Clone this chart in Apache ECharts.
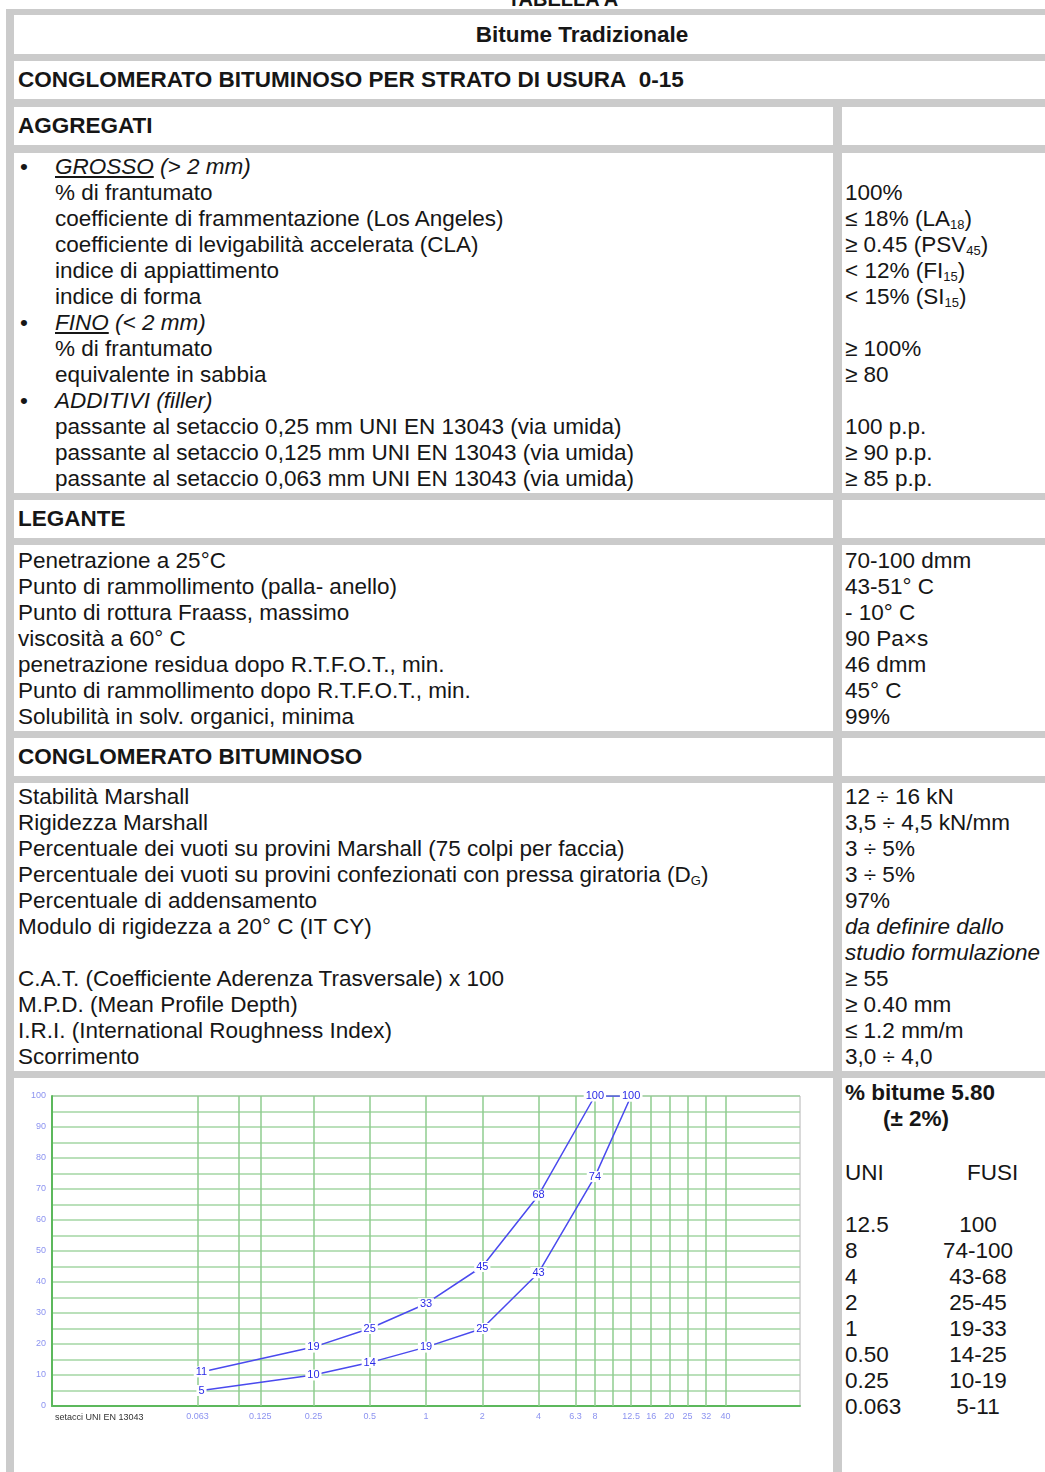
<!DOCTYPE html>
<html>
<head>
<meta charset="utf-8">
<script src="https://cdn.jsdelivr.net/npm/echarts@6/dist/echarts.min.js"></script>
<style>
  html, body { margin: 0; padding: 0; background: #fff; }
  #page { position: relative; width: 1045px; height: 1472px; overflow: hidden;
          font-family: 'Liberation Sans', Arial, sans-serif; color: #161616; }
  .title { position: absolute; left: 0; width: 1126px; top: -11px; text-align: center;
           font-weight: bold; font-size: 20px; line-height: 20px; }
  .frame { position: absolute; left: 6px; top: 9px; width: 1300px; height: 1600px; background: #cbcbcb; }
  .cell { position: absolute; background: #fff; box-sizing: border-box; }
  .head { display: flex; align-items: center; font-weight: bold; font-size: 22.5px; padding-left: 4px; white-space: nowrap; }
  .lines { font-size: 22.5px; line-height: 26px; }
  .ln { height: 26px; white-space: nowrap; position: relative; }
  .l .ln { padding-left: 4px; }
  .l .ln.ind { padding-left: 41px; }
  .r .ln { padding-left: 3px; }
  .bul { position: absolute; left: 6px; }
  sub { font-size: 13px; vertical-align: -3px; line-height: 0; }
  #chart { position: absolute; left: 0; top: 0; width: 819px; height: 394px; }
</style>
</head>
<body>
<div id="page"></div>
<script>
// curve data (sieve size mm -> % passing)
const sieveSizes = [0.063, 0.25, 0.5, 1, 2, 4, 8, 12.5];
const uniLabels = ['0.063', '0.25', '0.50', '1', '2', '4', '8', '12.5'];
const upperPassing = [11, 19, 25, 33, 45, 68, 100, 100];
const lowerPassing = [5, 10, 14, 19, 25, 43, 74, 100];

// vertical grid lines of the sieve chart
const gridSieves = [0.063, 0.1, 0.125, 0.25, 0.5, 1, 2, 4, 6.3, 8, 10, 12.5, 16, 20, 25, 31.5, 40];
const gridSieveLabels = ['0.063', '', '0.125', '0.25', '0.5', '1', '2', '4', '6.3', '8', '', '12.5', '16', '20', '25', '32', '40'];

// table rows: [kind, left text, right text]  kind: b = bullet, i = indented, n = normal
const aggregatiRows = [
  ['b', '<i><u>GROSSO</u> (&gt; 2 mm)</i>', ''],
  ['i', '% di frantumato', '100%'],
  ['i', 'coefficiente di frammentazione (Los Angeles)', '≤ 18% (LA<sub>18</sub>)'],
  ['i', 'coefficiente di levigabilità accelerata (CLA)', '≥ 0.45 (PSV<sub>45</sub>)'],
  ['i', 'indice di appiattimento', '&lt; 12% (FI<sub>15</sub>)'],
  ['i', 'indice di forma', '&lt; 15% (SI<sub>15</sub>)'],
  ['b', '<i><u>FINO</u> (&lt; 2 mm)</i>', ''],
  ['i', '% di frantumato', '≥ 100%'],
  ['i', 'equivalente in sabbia', '≥ 80'],
  ['b', '<i>ADDITIVI (filler)</i>', ''],
  ['i', 'passante al setaccio 0,25 mm UNI EN 13043 (via umida)', '100 p.p.'],
  ['i', 'passante al setaccio 0,125 mm UNI EN 13043 (via umida)', '≥ 90 p.p.'],
  ['i', 'passante al setaccio 0,063 mm UNI EN 13043 (via umida)', '≥ 85 p.p.']
];
const leganteRows = [
  ['n', 'Penetrazione a 25°C', '70-100 dmm'],
  ['n', 'Punto di rammollimento (palla- anello)', '43-51° C'],
  ['n', 'Punto di rottura Fraass, massimo', '- 10° C'],
  ['n', 'viscosità a 60° C', '90 Pa×s'],
  ['n', 'penetrazione residua dopo R.T.F.O.T., min.', '46 dmm'],
  ['n', 'Punto di rammollimento dopo R.T.F.O.T., min.', '45° C'],
  ['n', 'Solubilità in solv. organici, minima', '99%']
];
const conglomeratoRows = [
  ['n', 'Stabilità Marshall', '12 ÷ 16 kN'],
  ['n', 'Rigidezza Marshall', '3,5 ÷ 4,5 kN/mm'],
  ['n', 'Percentuale dei vuoti su provini Marshall (75 colpi per faccia)', '3 ÷ 5%'],
  ['n', 'Percentuale dei vuoti su provini confezionati con pressa giratoria (D<sub>G</sub>)', '3 ÷ 5%'],
  ['n', 'Percentuale di addensamento', '97%'],
  ['n', 'Modulo di rigidezza a 20° C (IT CY)', '<i>da definire dallo</i>'],
  ['n', '', '<i>studio formulazione</i>'],
  ['n', 'C.A.T. (Coefficiente Aderenza Trasversale) x 100', '≥ 55'],
  ['n', 'M.P.D. (Mean Profile Depth)', '≥ 0.40 mm'],
  ['n', 'I.R.I. (International Roughness Index)', '≤ 1.2 mm/m'],
  ['n', 'Scorrimento', '3,0 ÷ 4,0']
];

const page = document.getElementById('page');
page.innerHTML = '<div class="title">TABELLA A</div><div class="frame"></div>';

function cell(x, y, w, h, cls, html) {
  const d = document.createElement('div');
  d.className = 'cell ' + (cls || '');
  d.style.left = x + 'px'; d.style.top = y + 'px';
  d.style.width = w + 'px'; d.style.height = h + 'px';
  d.innerHTML = html || '';
  page.appendChild(d);
  return d;
}

function rowsCells(rows, top, h, padTop) {
  const left = rows.map(r => {
    const cls = r[0] === 'n' ? '' : ' ind';
    const bul = r[0] === 'b' ? '<span class="bul">•</span>' : '';
    return `<div class="ln${cls}">${bul}${r[1]}</div>`;
  }).join('');
  const right = rows.map(r => `<div class="ln">${r[2]}</div>`).join('');
  cell(14, top, 819, h, 'lines l', left).style.paddingTop = padTop + 'px';
  cell(842, top, 400, h, 'lines r', right).style.paddingTop = padTop + 'px';
}

const L = 14, W = 1136;
cell(L, 15, W, 39, 'head', '<div style="width:100%;text-align:center;padding-right:4px">Bitume Tradizionale</div>');
cell(L, 61, W, 38, 'head', 'CONGLOMERATO BITUMINOSO PER STRATO DI USURA&nbsp; 0-15');
cell(L, 107, 819, 38, 'head', 'AGGREGATI');
cell(842, 107, 400, 38, 'head', '');
rowsCells(aggregatiRows, 153, 340, 1);
cell(L, 500, 819, 38, 'head', 'LEGANTE');
cell(842, 500, 400, 38, 'head', '');
rowsCells(leganteRows, 545, 186, 3);
cell(L, 738, 819, 38, 'head', 'CONGLOMERATO BITUMINOSO');
cell(842, 738, 400, 38, 'head', '');
rowsCells(conglomeratoRows, 783, 288, 1);

// chart row
const chartCell = cell(L, 1078, 819, 420, '', '<div id="chart"></div>');
let fusiHtml = '<div class="ln"><b>% bitume 5.80</b></div>' +
  '<div class="ln" style="height:28px"><b style="padding-left:38px">(± 2%)</b></div>' +
  '<div class="ln"></div>' +
  '<div class="ln">UNI<span style="position:absolute;left:125px">FUSI</span></div>' +
  '<div class="ln"></div>';
for (let i = sieveSizes.length - 1; i >= 0; i--) {
  const f = lowerPassing[i] === upperPassing[i] ? String(upperPassing[i]) : lowerPassing[i] + '-' + upperPassing[i];
  fusiHtml += `<div class="ln">${uniLabels[i]}<span style="position:absolute;left:136px;transform:translateX(-50%)">${f}</span></div>`;
}
const fusiCell = cell(842, 1078, 400, 420, 'lines r', fusiHtml);
fusiCell.style.paddingTop = '2px';
fusiCell.style.lineHeight = '26.3px';

const chart = echarts.init(document.getElementById('chart'), null, { renderer: 'canvas' });
const curveColor = '#4a4aee';
const labelStyle = {
  show: true, position: 'inside', color: '#2a2ae6', fontSize: 11,
  fontFamily: 'Liberation Sans, Arial, sans-serif',
  backgroundColor: '#fff', padding: [0, 2]
};
chart.setOption({
  animation: false,
  grid: { left: 38, right: 33, top: 18, bottom: 66, show: true, borderColor: '#b4b4b4', borderWidth: 1 },
  xAxis: {
    type: 'log', logBase: 10, min: 0.01, max: 100,
    axisLine: { show: true, lineStyle: { color: '#5cb85c', width: 2 } },
    axisTick: { show: false },
    axisLabel: { show: false },
    splitLine: { show: false }
  },
  yAxis: {
    type: 'value', min: 0, max: 100, interval: 5,
    axisLine: { show: true, lineStyle: { color: '#5cb85c', width: 2 } },
    axisTick: { show: false },
    axisLabel: {
      color: '#8c93f0', fontSize: 9, margin: 6,
      formatter: v => (v % 10 === 0 ? String(v) : '')
    },
    splitLine: { lineStyle: { color: '#a3d6a3', width: 1.5 } }
  },
  graphic: [{
    type: 'text', left: 41, top: 335,
    style: { text: 'setacci UNI EN 13043', fill: '#333', font: '9px Liberation Sans, Arial, sans-serif' }
  }],
  series: [
    {
      type: 'line', data: [], z: 1, silent: true,
      markLine: {
        silent: true, symbol: ['none', 'none'],
        lineStyle: { color: '#8fcc8f', type: 'solid', width: 1.5 },
        label: { position: 'start', distance: 6, color: '#8c93f0', fontSize: 9 },
        data: gridSieves.map((s, i) => ({ xAxis: s, label: { formatter: gridSieveLabels[i] } }))
      }
    },
    {
      name: 'max', type: 'line', z: 5,
      data: sieveSizes.map((s, i) => [s, upperPassing[i]]),
      symbol: 'circle', symbolSize: 2,
      itemStyle: { color: curveColor },
      lineStyle: { color: curveColor, width: 1.5 },
      label: labelStyle
    },
    {
      name: 'min', type: 'line', z: 5,
      data: sieveSizes.map((s, i) => [s, lowerPassing[i]]),
      symbol: 'circle', symbolSize: 2,
      itemStyle: { color: curveColor },
      lineStyle: { color: curveColor, width: 1.5 },
      label: labelStyle
    }
  ]
});
</script>
</body>
</html>
